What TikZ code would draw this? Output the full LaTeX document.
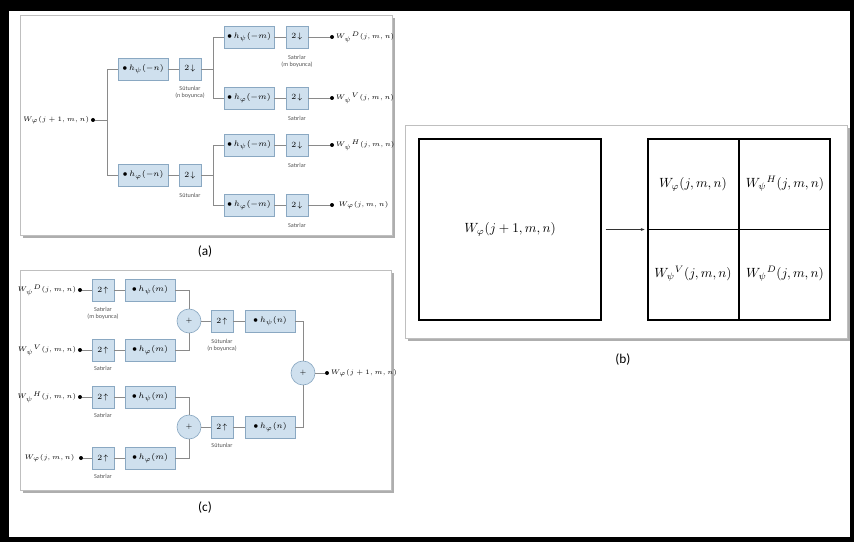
\documentclass[tikz,border=0pt]{standalone}
\usepackage{fontspec}
\setsansfont{Carlito}
\usetikzlibrary{shadows,arrows.meta}
\definecolor{boxfill}{HTML}{CFE0EE}
\definecolor{boxline}{HTML}{8AA8C2}
\definecolor{wirec}{HTML}{8A8A8A}
\definecolor{lblc}{HTML}{555555}
\begin{document}
\begin{tikzpicture}[x=0.75pt,y=-0.75pt,
  panel/.style={draw=gray!50,line width=0.4pt,fill=white,
    drop shadow={shadow xshift=2.2pt,shadow yshift=-2.2pt,fill=gray!70,opacity=0.9}},
  blk/.style={draw=boxline,fill=boxfill,line width=0.5pt,inner sep=0pt,
    font=\fontsize{6.1}{7}\selectfont,minimum height=16.5pt},
  filt/.style={blk,minimum width=37.5pt},
  rate/.style={blk,minimum width=16.5pt},
  summ/.style={circle,draw=boxline,fill=boxfill,line width=0.5pt,inner sep=0pt,
    minimum size=18pt,font=\fontsize{5}{6}\selectfont},
  lbl/.style={font=\sffamily\fontsize{4.6}{5.4}\selectfont,align=center,text=lblc,inner sep=0pt},
  wire/.style={draw=wirec,line width=0.5pt},
  pt/.style={circle,fill=black,inner sep=0pt,minimum size=3pt},
  sig/.style={font=\fontsize{5.5}{6.5}\selectfont,inner sep=1pt},
  big/.style={font=\fontsize{9.8}{11}\selectfont,inner sep=0pt},
  captxt/.style={font=\sffamily\fontsize{10}{12}\selectfont}
]
\useasboundingbox (0,0) rectangle (854,542);
% outer frame
\fill[black] (0,0) rectangle (854,542);
\fill[white] (9,11) rectangle (850,537);

% panels
\path[panel] (20,15) rectangle (392,235);
\path[panel] (20,270) rectangle (391,490);
\path[panel] (405,125) rectangle (847,338);

% ---------------- (a) analysis ----------------
\node[pt] (in) at (93,120) {};
\node[sig,anchor=east] (inl) at (in.west) {$W_{\varphi}(j+1,m,n)$};
\coordinate (t1) at (107,120);
\node[filt] (A1) at (143,69) {$\bullet\, h_{\psi}(-n)$};
\node[rate] (D1) at (190,69) {$2\!\downarrow$};
\node[lbl] (LD1) at (190,92) {Sütunlar\\(n boyunca)};
\node[filt] (A2) at (143,175) {$\bullet\, h_{\varphi}(-n)$};
\node[rate] (D2) at (190,175) {$2\!\downarrow$};
\node[lbl] (LD2) at (190,195) {Sütunlar};
\coordinate (j1) at (213,69);
\coordinate (j2) at (213,175);

\node[filt] (F1) at (249,37) {$\bullet\, h_{\psi}(-m)$};
\node[rate] (S1) at (297,37) {$2\!\downarrow$};
\node[lbl] (LS1) at (297,61) {Satırlar\\(m boyunca)};
\node[pt] (O1) at (332,37) {};
\node[sig,anchor=west] (OL1) at (O1.east) {$W_{\psi}{}^{D}(j,m,n)$};

\node[filt] (F2) at (249,98) {$\bullet\, h_{\varphi}(-m)$};
\node[rate] (S2) at (297,98) {$2\!\downarrow$};
\node[lbl] (LS2) at (297,118) {Satırlar};
\node[pt] (O2) at (332,98) {};
\node[sig,anchor=west] (OL2) at (O2.east) {$W_{\psi}{}^{V}(j,m,n)$};

\node[filt] (F3) at (249,145) {$\bullet\, h_{\psi}(-m)$};
\node[rate] (S3) at (297,145) {$2\!\downarrow$};
\node[lbl] (LS3) at (297,165) {Satırlar};
\node[pt] (O3) at (332,145) {};
\node[sig,anchor=west] (OL3) at (O3.east) {$W_{\psi}{}^{H}(j,m,n)$};

\node[filt] (F4) at (249,205) {$\bullet\, h_{\varphi}(-m)$};
\node[rate] (S4) at (297,205) {$2\!\downarrow$};
\node[lbl] (LS4) at (297,225) {Satırlar};
\node[pt] (O4) at (332,205) {};
\node[sig,anchor=west] (OL4) at ([xshift=2pt]O4.east) {$W_{\varphi}(j,m,n)$};

\draw[wire] (in) -- (t1);
\draw[wire] (t1) |- (A1);
\draw[wire] (t1) |- (A2);
\draw[wire] (A1) -- (D1);
\draw[wire] (A2) -- (D2);
\draw[wire] (D1) -- (j1);
\draw[wire] (D2) -- (j2);
\draw[wire] (j1) |- (F1);
\draw[wire] (j1) |- (F2);
\draw[wire] (j2) |- (F3);
\draw[wire] (j2) |- (F4);
\draw[wire] (F1) -- (S1); \draw[wire] (S1) -- (O1);
\draw[wire] (F2) -- (S2); \draw[wire] (S2) -- (O2);
\draw[wire] (F3) -- (S3); \draw[wire] (S3) -- (O3);
\draw[wire] (F4) -- (S4); \draw[wire] (S4) -- (O4);

\node[captxt] (capa) at (205,252) {(a)};

% ---------------- (c) synthesis ----------------
\node[pt] (I1) at (80,290) {};
\node[sig,anchor=east] (IL1) at (I1.west) {$W_{\psi}{}^{D}(j,m,n)$};
\node[pt] (I2) at (80,350) {};
\node[sig,anchor=east] (IL2) at (I2.west) {$W_{\psi}{}^{V}(j,m,n)$};
\node[pt] (I3) at (80,397) {};
\node[sig,anchor=east] (IL3) at (I3.west) {$W_{\psi}{}^{H}(j,m,n)$};
\node[pt] (I4) at (81,458) {};
\node[sig,anchor=east] (IL4) at ([xshift=-2pt]I4.west) {$W_{\varphi}(j,m,n)$};

\node[rate] (U1) at (103,290) {$2\!\uparrow$};
\node[rate] (U2) at (103,350) {$2\!\uparrow$};
\node[rate] (U3) at (103,397) {$2\!\uparrow$};
\node[rate] (U4) at (103,458) {$2\!\uparrow$};
\node[lbl] (LU1) at (103,313) {Satırlar\\(m boyunca)};
\node[lbl] (LU2) at (103,368) {Satırlar};
\node[lbl] (LU3) at (103,415) {Satırlar};
\node[lbl] (LU4) at (103,476) {Satırlar};

\node[filt] (G1) at (150,290) {$\bullet\, h_{\psi}(m)$};
\node[filt] (G2) at (150,350) {$\bullet\, h_{\varphi}(m)$};
\node[filt] (G3) at (150,397) {$\bullet\, h_{\psi}(m)$};
\node[filt] (G4) at (150,458) {$\bullet\, h_{\varphi}(m)$};

\node[summ] (C1) at (189,321) {$+$};
\node[summ] (C2) at (189,427) {$+$};
\node[rate] (U5) at (222,321) {$2\!\uparrow$};
\node[rate] (U6) at (222,427) {$2\!\uparrow$};
\node[lbl] (LU5) at (222,345) {Sütunlar\\(n boyunca)};
\node[lbl] (LU6) at (222,445) {Sütunlar};
\node[filt] (G5) at (270,321) {$\bullet\, h_{\psi}(n)$};
\node[filt] (G6) at (270,427) {$\bullet\, h_{\varphi}(n)$};
\node[summ] (C3) at (303,373) {$+$};
\node[pt] (OUT) at (327,373) {};
\node[sig,anchor=west] (OUTL) at (OUT.east) {$W_{\varphi}(j+1,m,n)$};

\draw[wire] (I1) -- (U1); \draw[wire] (U1) -- (G1); \draw[wire] (G1) -| (C1);
\draw[wire] (I2) -- (U2); \draw[wire] (U2) -- (G2); \draw[wire] (G2) -| (C1);
\draw[wire] (I3) -- (U3); \draw[wire] (U3) -- (G3); \draw[wire] (G3) -| (C2);
\draw[wire] (I4) -- (U4); \draw[wire] (U4) -- (G4); \draw[wire] (G4) -| (C2);
\draw[wire] (C1) -- (U5); \draw[wire] (U5) -- (G5); \draw[wire] (G5) -| (C3);
\draw[wire] (C2) -- (U6); \draw[wire] (U6) -- (G6); \draw[wire] (G6) -| (C3);
\draw[wire] (C3) -- (OUT);

\node[captxt] (capc) at (205,508) {(c)};

% ---------------- (b) ----------------
\node[draw=black,line width=1pt,minimum width=136.5pt,minimum height=135.75pt,inner sep=0pt]
  (L) at (510,229.5) {};
\node[big] (Lt) at (L.center) {$W_{\varphi}(j+1,m,n)$};
\node[draw=black,line width=1pt,minimum width=136.5pt,minimum height=135.75pt,inner sep=0pt]
  (R) at (739,229.5) {};
\draw[black,line width=1pt] (R.north) -- (R.south);
\draw[black,line width=1pt] (R.west) -- (R.east);
\node[big] (q1) at (693,184) {$W_{\varphi}(j,m,n)$};
\node[big] (q2) at (785,184) {$W_{\psi}{}^{H}(j,m,n)$};
\node[big] (q3) at (693,274) {$W_{\psi}{}^{V}(j,m,n)$};
\node[big] (q4) at (785,274) {$W_{\psi}{}^{D}(j,m,n)$};
\draw[-{Stealth[length=3pt,width=2.2pt]},line width=0.4pt,gray!40!black,shorten <=3pt,shorten >=2pt] (L.east) -- (R.west);

\node[captxt] (capb) at (623,360) {(b)};
\end{tikzpicture}
\end{document}
